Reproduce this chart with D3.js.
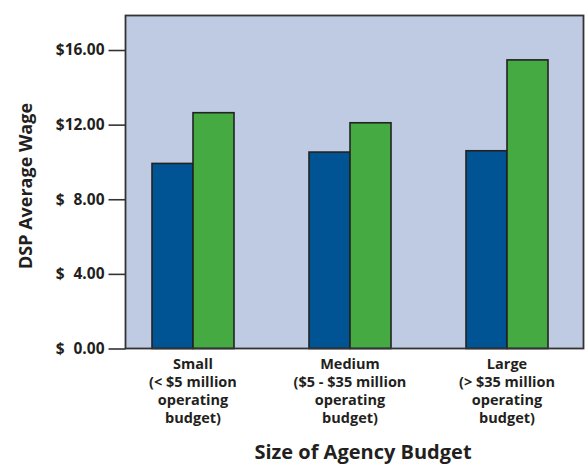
<!DOCTYPE html>
<html>
<head>
<meta charset="utf-8">
<script src="https://cdn.jsdelivr.net/npm/d3@7"></script>
<style>
  html, body { margin: 0; padding: 0; background: #fff; }
  svg text { font-family: "Open Sans", "Noto Sans", sans-serif; font-weight: 700; fill: #231f20; }
</style>
</head>
<body>
<svg id="chart" width="587" height="466"></svg>
<script>
const categories = ["Small", "Medium", "Large"];
const categoryLabels = [
  ["Small", "(< $5 million", "operating", "budget)"],
  ["Medium", "($5 - $35 million", "operating", "budget)"],
  ["Large", "(> $35 million", "operating", "budget)"]
];
const seriesNames = ["Series A", "Series B"];
const seriesA = [9.92, 10.53, 10.60];
const seriesB = [12.64, 12.10, 15.47];
const yTicks = [0, 4, 8, 12, 16];
const yTickLabels = ["$\u20070.00", "$\u20074.00", "$\u20078.00", "$12.00", "$16.00"];
const yMax = 17.85;
const colors = ["#005494", "#46aa43"];

const svg = d3.select("#chart");
const plot = { left: 125.5, right: 583.5, top: 15.5, bottom: 348.5 };

const y = d3.scaleLinear().domain([0, yMax]).range([plot.bottom, plot.top]);
const x0 = d3.scaleBand().domain(categories).range([114.5, 585.5]).paddingInner(0).paddingOuter(0);
const x1 = d3.scaleBand().domain(seriesNames)
  .range([x0.bandwidth() / 2 - 41, x0.bandwidth() / 2 + 41]).padding(0);

// plot background
svg.append("rect")
  .attr("x", plot.left).attr("y", plot.top)
  .attr("width", plot.right - plot.left).attr("height", plot.bottom - plot.top)
  .attr("fill", "#bfcbe3");

const data = categories.map((c, i) => ({ cat: c, vals: [seriesA[i], seriesB[i]] }));

const groups = svg.append("g").selectAll("g").data(data).join("g")
  .attr("transform", d => `translate(${x0(d.cat)},0)`);

groups.selectAll("rect").data(d => d.vals.map((v, j) => ({ s: seriesNames[j], v, j })))
  .join("rect")
  .attr("x", d => x1(d.s))
  .attr("y", d => y(d.v))
  .attr("width", x1.bandwidth())
  .attr("height", d => y(0) - y(d.v))
  .attr("fill", d => colors[d.j])
  .attr("stroke", "#222")
  .attr("stroke-width", 1.6);

// plot border
svg.append("rect")
  .attr("x", plot.left).attr("y", plot.top)
  .attr("width", plot.right - plot.left).attr("height", plot.bottom - plot.top)
  .attr("fill", "none").attr("stroke", "#333").attr("stroke-width", 1.8);

// y axis
const yAxis = d3.axisLeft(y).tickValues(yTicks)
  .tickFormat((d, i) => yTickLabels[i]).tickSize(17).tickPadding(4);
const gy = svg.append("g").attr("transform", `translate(${plot.left},0)`).call(yAxis);
gy.select(".domain").remove();
gy.selectAll(".tick line").attr("stroke", "#333").attr("stroke-width", 1.6);
gy.selectAll(".tick text").attr("font-size", 15.5).attr("fill", "#231f20")
  .style("font-family", '"Open Sans", sans-serif').style("font-weight", 700);

// x category labels
const xl = svg.append("g");
data.forEach((d, i) => {
  const cx = x0(d.cat) + x0.bandwidth() / 2;
  const t = xl.append("text").attr("text-anchor", "middle").attr("font-size", 14.5);
  categoryLabels[i].forEach((line, k) => {
    t.append("tspan").attr("x", cx).attr("y", 368.5 + k * 18).text(line);
  });
});

// axis titles
svg.append("text")
  .attr("transform", `translate(32,186) rotate(-90)`)
  .attr("text-anchor", "middle").attr("font-size", 18)
  .text("DSP Average Wage");

svg.append("text")
  .attr("x", 363).attr("y", 459)
  .attr("text-anchor", "middle").attr("font-size", 20)
  .text("Size of Agency Budget");
</script>
</body>
</html>
